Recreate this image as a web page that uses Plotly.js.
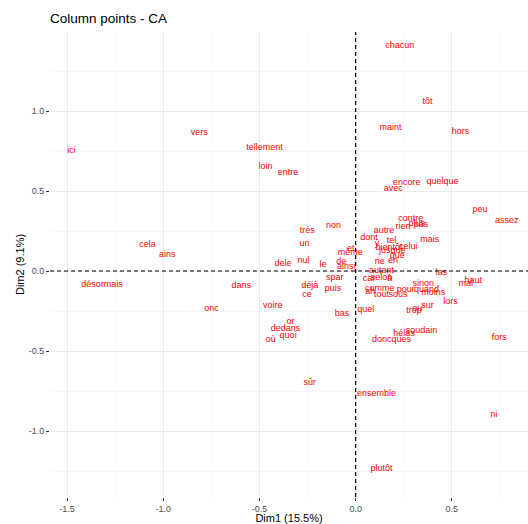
<!DOCTYPE html>
<html><head><meta charset="utf-8">
<script src="https://cdn.plot.ly/plotly-3.0.1.min.js"></script>
<style>html,body{margin:0;padding:0;background:#fff}</style>
</head><body><div id="chart" style="width:528px;height:524px"></div>
<script>
const words = ["chacun","tôt","maint","hors","encore","quelque","avec","peu","assez","contre","rien","plus","pas",
"autre","dont","tel","mais","y","bientôt","celui","jusque","que","et","même","ne","en","de","ainsi","le","nul","un","très","non",
"dele","cela","ains","ici","vers","tellement","loin","entre",
"désormais","dans","onc","voire","or","dedans","quoi","où","déjà","ce","spar","puis","bas","quel",
"doncques","hélas","soudain","fors","trop","ou","sur","lors","moins","quand","pour","sinon","mal","haut","las",
"comme","tout","sous","ah","car","selon","à","autant","sûr","ensemble","ni","plutôt"];
const dim1 = [0.229,0.373,0.181,0.545,0.266,0.451,0.196,0.646,0.785,0.286,0.246,0.318,0.340,
0.148,0.069,0.186,0.385,0.111,0.174,0.273,0.190,0.217,-0.026,-0.028,0.125,0.194,-0.075,-0.049,-0.170,-0.271,-0.266,-0.252,-0.115,
-0.378,-1.082,-0.979,-1.477,-0.8125,-0.474,-0.469,-0.352,
-1.318,-0.594,-0.750,-0.431,-0.339,-0.365,-0.351,-0.441,-0.238,-0.253,-0.109,-0.118,-0.071,0.052,
0.186,0.252,0.342,0.746,0.304,0.320,0.373,0.493,0.403,0.368,0.260,0.351,0.573,0.611,0.446,
0.125,0.134,0.220,0.076,0.069,0.134,0.177,0.134,-0.238,0.108,0.719,0.134];
const dim2 = [1.408,1.056,0.894,0.869,0.554,0.558,0.517,0.381,0.3125,0.325,0.277,0.297,0.290,
0.250,0.210,0.192,0.194,0.173,0.146,0.152,0.125,0.094,0.139,0.117,0.060,0.067,0.056,0.027,0.042,0.0625,0.171,0.254,0.281,
0.044,0.1625,0.100,0.754,0.8625,0.769,0.652,0.6125,
-0.0875,-0.094,-0.2375,-0.215,-0.317,-0.360,-0.404,-0.427,-0.092,-0.146,-0.040,-0.1125,-0.270,-0.240,
-0.427,-0.394,-0.373,-0.415,-0.250,-0.2375,-0.219,-0.190,-0.1375,-0.115,-0.119,-0.077,-0.077,-0.060,-0.0125,
-0.108,-0.148,-0.148,-0.131,-0.050,-0.040,-0.050,0.002,-0.696,-0.765,-0.898,-1.2375];
const xTicks = [-1.5,-1.0,-0.5,0.0,0.5];
const xTickText = ["-1.5","-1.0","-0.5","0.0","0.5"];
const yTicks = [-1.0,-0.5,0.0,0.5,1.0];
const yTickText = ["-1.0","-0.5","0.0","0.5","1.0"];

const trace = {
  x: dim1, y: dim2, text: words, mode: "text", type: "scatter",
  textposition: "middle center",
  textfont: {family: "Liberation Sans, Arial, sans-serif", size: 9, color: "#FF0000"},
  hoverinfo: "none", showlegend: false, cliponaxis: false
};
const axisCommon = {
  showline: false, zeroline: false,
  gridcolor: "#EBEBEB", gridwidth: 1,
  ticks: "outside", ticklen: 3, tickwidth: 1, tickcolor: "#333333",
  tickfont: {family: "Liberation Sans, Arial, sans-serif", size: 9, color: "#4D4D4D"},
  tickmode: "array",
  minor: {showgrid: true, gridcolor: "#F3F3F3", gridwidth: 0.6, dtick: 0.25, ticks: ""}
};
const layout = {
  width: 528, height: 524,
  margin: {l: 50, r: 0, t: 32, b: 27},
  paper_bgcolor: "#fff", plot_bgcolor: "#fff",
  title: {text: "Column points - CA", x: 0, xref: "paper", xanchor: "left",
          y: 1 - 18/524, yref: "container", yanchor: "middle",
          font: {family: "Liberation Sans, Arial, sans-serif", size: 13.5, color: "#000"}},
  xaxis: Object.assign({}, axisCommon, {
    range: [-1.589, 0.896], tickvals: xTicks, ticktext: xTickText,
    title: {text: "Dim1 (15.5%)", standoff: 2, font: {family: "Liberation Sans, Arial, sans-serif", size: 11, color: "#000"}}
  }),
  yaxis: Object.assign({}, axisCommon, {
    range: [-1.4125, 1.494], tickvals: yTicks, ticktext: yTickText,
    title: {text: "Dim2 (9.1%)", standoff: 1, font: {family: "Liberation Sans, Arial, sans-serif", size: 11, color: "#000"}}
  }),
  shapes: [
    {type: "line", xref: "x", yref: "paper", x0: 0, x1: 0, y0: 0, y1: 1, line: {color: "#000", width: 1.2, dash: "4px,3px"}},
    {type: "line", xref: "paper", yref: "y", x0: 0, x1: 1, y0: 0, y1: 0, line: {color: "#000", width: 1.2, dash: "4px,3px"}}
  ]
};
Plotly.newPlot("chart", [trace], layout, {staticPlot: true, displayModeBar: false});
</script></body></html>
